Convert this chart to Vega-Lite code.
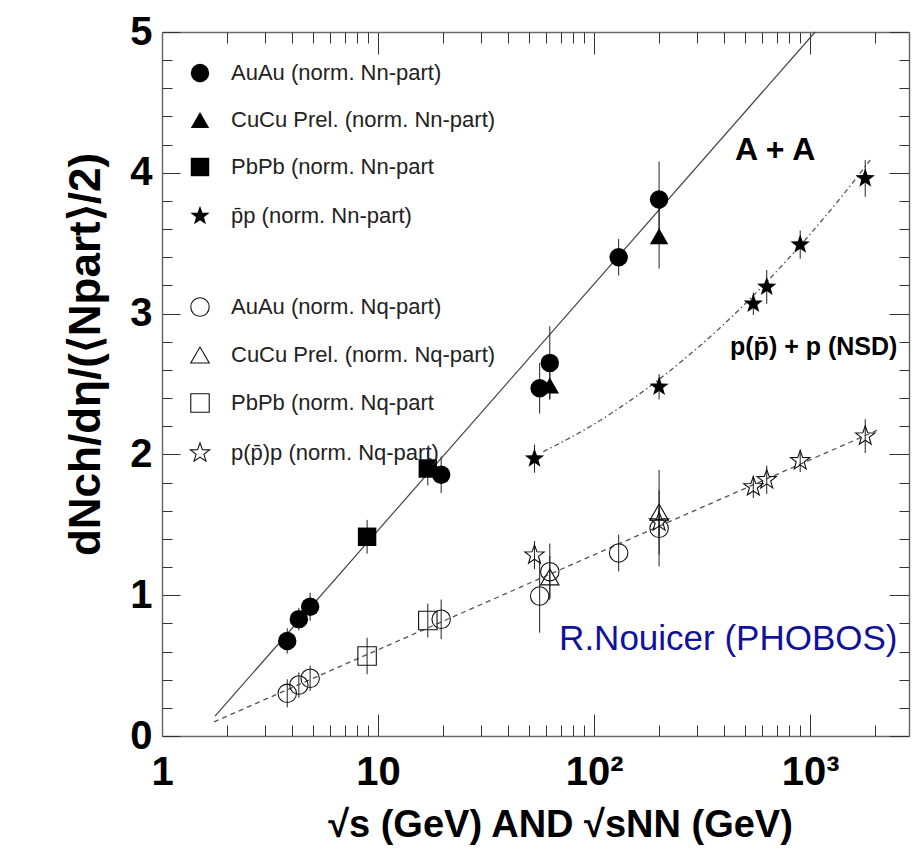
{
  "$schema": "https://vega.github.io/schema/vega-lite/v6.json",
  "width": 747,
  "height": 704,
  "autosize": "none",
  "padding": {"left": 162, "top": 32, "right": 4, "bottom": 113},
  "background": "white",
  "config": {
    "view": {"stroke": null},
    "axis": {"grid": false, "domainColor": "#6a6a6a", "domainWidth": 1.5, "tickColor": "#333333", "tickWidth": 1, "labelFont": "Liberation Sans", "titleFont": "Liberation Sans", "labelColor": "black", "titleColor": "black"},
    "legend": {"labelFont": "Liberation Sans", "labelFontSize": 22, "labelColor": "#222222", "padding": 0, "labelLimit": 0}
  },
  "datasets": {
    "pts": [
      {"sys": "AuAu (norm. Nn-part)", "grp": "n", "e": 3.8, "v": 0.675, "err": 0.09},
      {"sys": "AuAu (norm. Nn-part)", "grp": "n", "e": 4.3, "v": 0.83, "err": 0.08},
      {"sys": "AuAu (norm. Nn-part)", "grp": "n", "e": 4.85, "v": 0.918, "err": 0.1},
      {"sys": "AuAu (norm. Nn-part)", "grp": "n", "e": 19.6, "v": 1.855, "err": 0.13},
      {"sys": "AuAu (norm. Nn-part)", "grp": "n", "e": 56, "v": 2.47, "err": 0.18},
      {"sys": "AuAu (norm. Nn-part)", "grp": "n", "e": 62.4, "v": 2.65, "err": 0.26},
      {"sys": "AuAu (norm. Nn-part)", "grp": "n", "e": 130, "v": 3.4, "err": 0.13},
      {"sys": "AuAu (norm. Nn-part)", "grp": "n", "e": 200, "v": 3.81, "err": 0.27},
      {"sys": "CuCu Prel. (norm. Nn-part)", "grp": "n", "e": 62.4, "v": 2.49, "err": 0.1},
      {"sys": "CuCu Prel. (norm. Nn-part)", "grp": "n", "e": 200, "v": 3.55, "err": 0.23},
      {"sys": "PbPb (norm. Nn-part", "grp": "n", "e": 8.9, "v": 1.415, "err": 0.12},
      {"sys": "PbPb (norm. Nn-part", "grp": "n", "e": 17.0, "v": 1.9, "err": 0.12},
      {"sys": "p̄p (norm. Nn-part)", "grp": "n", "e": 53, "v": 1.97, "err": 0.1},
      {"sys": "p̄p (norm. Nn-part)", "grp": "n", "e": 200, "v": 2.48, "err": 0.09},
      {"sys": "p̄p (norm. Nn-part)", "grp": "n", "e": 546, "v": 3.07, "err": 0.08},
      {"sys": "p̄p (norm. Nn-part)", "grp": "n", "e": 630, "v": 3.19, "err": 0.12},
      {"sys": "p̄p (norm. Nn-part)", "grp": "n", "e": 900, "v": 3.49, "err": 0.1},
      {"sys": "p̄p (norm. Nn-part)", "grp": "n", "e": 1800, "v": 3.96, "err": 0.13},
      {"sys": "AuAu (norm. Nq-part)", "grp": "q", "e": 3.8, "v": 0.303, "err": 0.1},
      {"sys": "AuAu (norm. Nq-part)", "grp": "q", "e": 4.3, "v": 0.362, "err": 0.09},
      {"sys": "AuAu (norm. Nq-part)", "grp": "q", "e": 4.85, "v": 0.41, "err": 0.09},
      {"sys": "AuAu (norm. Nq-part)", "grp": "q", "e": 19.6, "v": 0.829, "err": 0.14},
      {"sys": "AuAu (norm. Nq-part)", "grp": "q", "e": 56, "v": 0.994, "err": 0.26},
      {"sys": "AuAu (norm. Nq-part)", "grp": "q", "e": 62.4, "v": 1.167, "err": 0.2},
      {"sys": "AuAu (norm. Nq-part)", "grp": "q", "e": 130, "v": 1.3, "err": 0.13},
      {"sys": "AuAu (norm. Nq-part)", "grp": "q", "e": 200, "v": 1.475, "err": 0.27},
      {"sys": "CuCu Prel. (norm. Nq-part)", "grp": "q", "e": 62.4, "v": 1.13, "err": 0.15},
      {"sys": "CuCu Prel. (norm. Nq-part)", "grp": "q", "e": 200, "v": 1.59, "err": 0.3},
      {"sys": "PbPb (norm. Nq-part", "grp": "q", "e": 8.9, "v": 0.568, "err": 0.13},
      {"sys": "PbPb (norm. Nq-part", "grp": "q", "e": 17.0, "v": 0.82, "err": 0.12},
      {"sys": "p(p̄)p (norm. Nq-part)", "grp": "q", "e": 53, "v": 1.285, "err": 0.1},
      {"sys": "p(p̄)p (norm. Nq-part)", "grp": "q", "e": 200, "v": 1.52, "err": 0.1},
      {"sys": "p(p̄)p (norm. Nq-part)", "grp": "q", "e": 546, "v": 1.77, "err": 0.08},
      {"sys": "p(p̄)p (norm. Nq-part)", "grp": "q", "e": 630, "v": 1.82, "err": 0.1},
      {"sys": "p(p̄)p (norm. Nq-part)", "grp": "q", "e": 900, "v": 1.955, "err": 0.08},
      {"sys": "p(p̄)p (norm. Nq-part)", "grp": "q", "e": 1800, "v": 2.13, "err": 0.12}
    ],
    "lineAA": [{"e": 1.76, "v": 0.141}, {"e": 1055, "v": 5.0}],
    "lineQ": [{"e": 1.74, "v": 0.1}, {"e": 2037, "v": 2.17}],
    "linePP": [
      {"e": 58.2, "v": 2.02}, {"e": 79.4, "v": 2.127}, {"e": 100, "v": 2.215}, {"e": 158.5, "v": 2.418},
      {"e": 251, "v": 2.654}, {"e": 398, "v": 2.923}, {"e": 631, "v": 3.227}, {"e": 1000, "v": 3.564},
      {"e": 1413, "v": 3.839}, {"e": 1897, "v": 4.09}
    ]
  },
  "layer": [
    {
      "data": {"name": "lineAA"},
      "mark": {"type": "line", "color": "#444444", "strokeWidth": 1.2},
      "encoding": {
        "x": {"field": "e", "type": "quantitative", "scale": {"type": "log", "domain": [1, 2870], "nice": false},
          "axis": {"orient": "bottom", "values": [1, 10, 100, 1000], "tickSize": -22, "labelPadding": 38, "labelFontSize": 40, "labelFontWeight": "bold", "labelFlush": false, "labelOverlap": false,
            "labelExpr": "datum.value == 1 ? '1' : datum.value == 10 ? '10' : datum.value == 100 ? '10²' : '10³'",
            "title": "√s (GeV) AND √sNN (GeV)", "titleFontSize": 38, "titleFontWeight": "bold", "titleX": 398, "titleY": 100, "titleBaseline": "alphabetic", "titleAlign": "center"}},
        "y": {"field": "v", "type": "quantitative", "scale": {"domain": [0, 5], "nice": false, "zero": false},
          "axis": {"orient": "left", "values": [0, 1, 2, 3, 4, 5], "tickSize": -18, "labelPadding": 28, "labelFontSize": 40, "labelFontWeight": "bold", "labelFlush": false, "labelOverlap": false,
            "title": "dNch/dη/(⟨Npart⟩/2)", "titleFontSize": 44, "titleFontWeight": "bold", "titleX": -63, "titleY": 322, "titleAngle": 270, "titleBaseline": "alphabetic", "titleAlign": "center"}}
      }
    },
    {
      "data": {"name": "lineQ"},
      "mark": {"type": "line", "color": "#555555", "strokeWidth": 1.3, "strokeDash": [5, 4]},
      "encoding": {
        "x": {"field": "e", "type": "quantitative", "scale": {"type": "log", "domain": [1, 2870], "nice": false},
          "axis": {"orient": "bottom", "values": [2, 3, 4, 5, 6, 7, 8, 9, 20, 30, 40, 50, 60, 70, 80, 90, 200, 300, 400, 500, 600, 700, 800, 900, 2000], "tickSize": -11, "labels": false, "domain": false, "title": null}},
        "y": {"field": "v", "type": "quantitative", "scale": {"domain": [0, 5], "nice": false, "zero": false},
          "axis": {"orient": "left", "values": [0.2, 0.4, 0.6, 0.8, 1.2, 1.4, 1.6, 1.8, 2.2, 2.4, 2.6, 2.8, 3.2, 3.4, 3.6, 3.8, 4.2, 4.4, 4.6, 4.8], "tickSize": -10, "labels": false, "domain": false, "title": null}}
      }
    },
    {
      "data": {"name": "linePP"},
      "mark": {"type": "line", "color": "#555555", "strokeWidth": 1.3, "strokeDash": [5, 3, 1.5, 3], "interpolate": "monotone"},
      "encoding": {
        "x": {"field": "e", "type": "quantitative", "scale": {"type": "log", "domain": [1, 2870], "nice": false},
          "axis": {"orient": "top", "values": [1, 10, 100, 1000], "tickSize": -22, "labels": false, "title": null}},
        "y": {"field": "v", "type": "quantitative", "scale": {"domain": [0, 5], "nice": false, "zero": false},
          "axis": {"orient": "right", "values": [0, 1, 2, 3, 4, 5], "tickSize": -20, "labels": false, "title": null}}
      }
    },
    {
      "data": {"name": "pts"},
      "mark": {"type": "errorbar", "color": "#222222", "thickness": 1},
      "encoding": {
        "x": {"field": "e", "type": "quantitative", "scale": {"type": "log", "domain": [1, 2870], "nice": false}, "axis": null},
        "y": {"field": "v", "type": "quantitative", "scale": {"domain": [0, 5], "nice": false, "zero": false}, "axis": null},
        "yError": {"field": "err"}
      }
    },
    {
      "data": {"name": "pts"},
      "transform": [{"filter": "datum.grp == 'n'"}],
      "mark": {"type": "point", "filled": true, "color": "black", "size": 340, "opacity": 1},
      "encoding": {
        "x": {"field": "e", "type": "quantitative", "scale": {"type": "log", "domain": [1, 2870], "nice": false},
          "axis": {"orient": "top", "values": [2, 3, 4, 5, 6, 7, 8, 9, 20, 30, 40, 50, 60, 70, 80, 90, 200, 300, 400, 500, 600, 700, 800, 900, 2000], "tickSize": -11, "labels": false, "domain": false, "title": null}},
        "y": {"field": "v", "type": "quantitative", "scale": {"domain": [0, 5], "nice": false, "zero": false},
          "axis": {"orient": "right", "values": [0.2, 0.4, 0.6, 0.8, 1.2, 1.4, 1.6, 1.8, 2.2, 2.4, 2.6, 2.8, 3.2, 3.4, 3.6, 3.8, 4.2, 4.4, 4.6, 4.8], "tickSize": -10, "labels": false, "domain": false, "title": null}},
        "shape": {"field": "sys", "type": "nominal",
          "scale": {"domain": ["AuAu (norm. Nn-part)", "CuCu Prel. (norm. Nn-part)", "PbPb (norm. Nn-part", "p̄p (norm. Nn-part)"],
            "range": ["circle", "triangle-up", "square", "M0,-1.1L0.264,-0.364L1.046,-0.34L0.428,0.139L0.647,0.89L0,0.45L-0.647,0.89L-0.428,0.139L-1.046,-0.34L-0.264,-0.364Z"]},
          "legend": {"orient": "none", "legendX": 27, "legendY": 30, "title": null, "symbolSize": 340, "rowPadding": 24, "labelOffset": 20, "labelLimit": 0, "labelFontSize": 22, "symbolFillColor": "black", "symbolStrokeColor": "black", "symbolStrokeWidth": 1}}
      }
    },
    {
      "data": {"name": "pts"},
      "transform": [{"filter": "datum.grp == 'q'"}],
      "mark": {"type": "point", "filled": false, "color": "#111111", "strokeWidth": 1.1, "size": 340, "opacity": 1},
      "encoding": {
        "x": {"field": "e", "type": "quantitative", "scale": {"type": "log", "domain": [1, 2870], "nice": false}, "axis": null},
        "y": {"field": "v", "type": "quantitative", "scale": {"domain": [0, 5], "nice": false, "zero": false}, "axis": null},
        "shape": {"field": "sys", "type": "nominal",
          "scale": {"domain": ["AuAu (norm. Nq-part)", "CuCu Prel. (norm. Nq-part)", "PbPb (norm. Nq-part", "p(p̄)p (norm. Nq-part)"],
            "range": ["circle", "triangle-up", "square", "M0,-1.1L0.264,-0.364L1.046,-0.34L0.428,0.139L0.647,0.89L0,0.45L-0.647,0.89L-0.428,0.139L-1.046,-0.34L-0.264,-0.364Z"]},
          "legend": {"orient": "none", "legendX": 27, "legendY": 264, "title": null, "symbolSize": 340, "rowPadding": 25, "labelOffset": 20, "labelLimit": 0, "labelFontSize": 22, "symbolStrokeColor": "#111111", "symbolStrokeWidth": 1.1}}
      }
    },
    {
      "data": {"values": [{"t": "A + A", "e": 689, "v": 4.09}]},
      "mark": {"type": "text", "font": "Liberation Sans", "fontWeight": "bold", "fontSize": 32, "align": "center", "baseline": "alphabetic", "color": "black"},
      "encoding": {
        "x": {"field": "e", "type": "quantitative", "scale": {"type": "log", "domain": [1, 2870], "nice": false}, "axis": null},
        "y": {"field": "v", "type": "quantitative", "scale": {"domain": [0, 5], "nice": false, "zero": false}, "axis": null},
        "text": {"field": "t"}
      }
    },
    {
      "data": {"values": [{"t": "p(p̄) + p (NSD)", "e": 426, "v": 2.706}]},
      "mark": {"type": "text", "font": "Liberation Sans", "fontWeight": "bold", "fontSize": 25, "align": "left", "baseline": "alphabetic", "color": "black"},
      "encoding": {
        "x": {"field": "e", "type": "quantitative", "scale": {"type": "log", "domain": [1, 2870], "nice": false}, "axis": null},
        "y": {"field": "v", "type": "quantitative", "scale": {"domain": [0, 5], "nice": false, "zero": false}, "axis": null},
        "text": {"field": "t"}
      }
    },
    {
      "data": {"values": [{"t": "R.Nouicer (PHOBOS)", "e": 68.9, "v": 0.611}]},
      "mark": {"type": "text", "font": "Liberation Sans", "fontSize": 35, "align": "left", "baseline": "alphabetic", "color": "#11119a"},
      "encoding": {
        "x": {"field": "e", "type": "quantitative", "scale": {"type": "log", "domain": [1, 2870], "nice": false}, "axis": null},
        "y": {"field": "v", "type": "quantitative", "scale": {"domain": [0, 5], "nice": false, "zero": false}, "axis": null},
        "text": {"field": "t"}
      }
    }
  ],
  "resolve": {"axis": {"x": "independent", "y": "independent"}, "scale": {"shape": "independent"}, "legend": {"shape": "independent"}}
}
